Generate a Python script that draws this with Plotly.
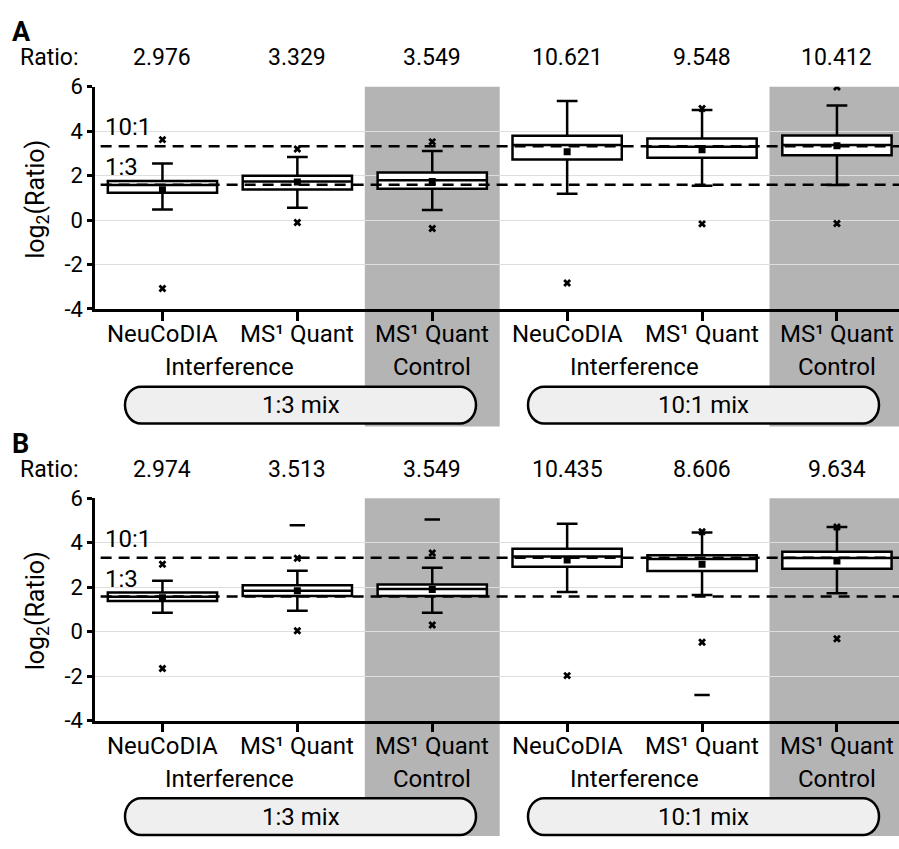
import math
import plotly.graph_objects as go

# ---------------- data ----------------
categories = ["NeuCoDIA", "MS¹ Quant", "MS¹ Quant",
              "NeuCoDIA", "MS¹ Quant", "MS¹ Quant"]
group_labels = ["Interference", "Control", "Interference", "Control"]
group_pos = [0.5, 2, 3.5, 5]
mix_labels = ["1:3 mix", "10:1 mix"]

ratio_A = ["2.976", "3.329", "3.549", "10.621", "9.548", "10.412"]
ratio_B = ["2.974", "3.513", "3.549", "10.435", "8.606", "9.634"]

q1_A = [1.23, 1.38, 1.41, 2.73, 2.81, 2.92]
median_A = [1.58, 1.74, 1.79, 3.38, 3.30, 3.38]
q3_A = [1.76, 1.99, 2.14, 3.80, 3.67, 3.81]
low_A = [0.48, 0.56, 0.45, 1.19, 1.55, 1.58]
up_A = [2.55, 2.84, 3.11, 5.36, 4.95, 5.15]
mean_A = [1.36, 1.71, 1.74, 3.08, 3.16, 3.35]
xout_A = [[3.62, -3.08], [3.20, -0.11], [3.52, -0.38], [-2.83], [5.02, -0.17], [-0.15, 5.99]]
dash_A = [[], [], [], [], [], []]

q1_B = [1.38, 1.60, 1.60, 2.92, 2.73, 2.83]
median_B = [1.57, 1.84, 1.92, 3.38, 3.27, 3.31]
q3_B = [1.76, 2.08, 2.12, 3.73, 3.44, 3.59]
low_B = [0.85, 0.94, 0.85, 1.78, 1.65, 1.73]
up_B = [2.29, 2.74, 2.87, 4.85, 4.46, 4.71]
mean_B = [1.52, 1.84, 1.90, 3.22, 3.03, 3.18]
xout_B = [[3.03, -1.66], [3.30, 0.04], [3.54, 0.30], [-1.98], [4.49, -0.48], [4.71, -0.32]]
dash_B = [[], [4.78], [5.04], [], [-2.85], []]

ref_lines = [math.log2(10), math.log2(3)]
ref_labels = ["10:1", "1:3"]
ref_label_y = [4.17, 2.38]

y_ticks = [-4, -2, 0, 2, 4, 6]
y_ticktext = ["-4", "-2", "0", "2", "4", "6"]

# ---------------- layout helpers ----------------
W, H = 899, 849
FONT = "Roboto, Open Sans, sans-serif"
GRAY = "#b4b4b4"


def px(x):
    return x / W


def py(y):
    return 1 - y / H


fig = go.Figure()
xpos = list(range(6))

panels = [
    dict(name="A", xa="x", ya="y", top=77, bot=306, q1=q1_A, med=median_A, q3=q3_A,
         lo=low_A, up=up_A, mean=mean_A, xout=xout_A, dash=dash_A, ratio=ratio_A),
    dict(name="B", xa="x2", ya="y2", top=501, bot=730, q1=q1_B, med=median_B, q3=q3_B,
         lo=low_B, up=up_B, mean=mean_B, xout=xout_B, dash=dash_B, ratio=ratio_B),
]

shapes = []
annotations = []

for p in panels:
    xa, ya = p["xa"], p["ya"]
    fig.add_trace(go.Box(
        x=xpos, q1=p["q1"], median=p["med"], q3=p["q3"],
        lowerfence=p["lo"], upperfence=p["up"],
        xaxis=xa, yaxis=ya, width=0.81, whiskerwidth=0.19,
        fillcolor="white", line=dict(color="black", width=2.5),
        boxpoints=False, showlegend=False, hoverinfo="skip"))
    fig.add_trace(go.Scatter(
        x=xpos, y=p["mean"], mode="markers", xaxis=xa, yaxis=ya,
        marker=dict(symbol="square", size=7, color="black"),
        showlegend=False, hoverinfo="skip"))
    ox, oy = [], []
    for i, vals in enumerate(p["xout"]):
        for v in vals:
            ox.append(i)
            oy.append(v)
    fig.add_trace(go.Scatter(
        x=ox, y=oy, mode="markers", xaxis=xa, yaxis=ya,
        marker=dict(symbol="x", size=7, color="black", line=dict(width=0)),
        showlegend=False, hoverinfo="skip"))
    dx, dy = [], []
    for i, vals in enumerate(p["dash"]):
        for v in vals:
            dx.append(i)
            dy.append(v)
    fig.add_trace(go.Scatter(
        x=dx, y=dy, mode="markers", xaxis=xa, yaxis=ya,
        marker=dict(symbol="line-ew", size=11, color="black",
                    line=dict(width=2.5, color="black")),
        showlegend=False, hoverinfo="skip"))

    top, bot = p["top"], p["bot"]
    gray_bottom = 427 if p["name"] == "A" else H
    for c in (2, 5):
        shapes.append(dict(type="rect", xref=xa, yref="paper",
                           x0=c - 0.5, x1=c + 0.5, y0=py(gray_bottom), y1=py(top),
                           fillcolor=GRAY, line=dict(width=0), layer="below"))
    for yv in ref_lines:
        shapes.append(dict(type="line", xref=xa + " domain", yref=ya,
                           x0=0.007, x1=1, y0=yv, y1=yv,
                           line=dict(color="black", width=2.5, dash="11px,7px"),
                           layer="above"))
    for lab, yv in zip(ref_labels, ref_label_y):
        annotations.append(dict(text=lab, xref="paper", yref=ya, x=px(103), y=yv,
                                xanchor="left", yanchor="middle", showarrow=False,
                                font=dict(family=FONT, size=24, color="black")))
    annotations.append(dict(text="<b>%s</b>" % p["name"], xref="paper", yref="paper",
                            x=px(10), y=py(top - 56), xanchor="left", yanchor="middle",
                            showarrow=False, font=dict(family=FONT, size=27, color="black")))
    annotations.append(dict(text="Ratio:", xref="paper", yref="paper",
                            x=px(18), y=py(top - 30), xanchor="left", yanchor="middle",
                            showarrow=False, font=dict(family=FONT, size=23, color="black")))
    for i, r in enumerate(p["ratio"]):
        annotations.append(dict(text=r, xref=xa, yref="paper", x=i, y=py(top - 30),
                                xanchor="center", yanchor="middle", showarrow=False,
                                font=dict(family=FONT, size=23, color="black")))
    annotations.append(dict(text="log<sub>2</sub>(Ratio)", xref="paper", yref="paper",
                            x=px(37), y=py((top + bot) / 2 + 2), textangle=-90,
                            xanchor="center", yanchor="middle", showarrow=False,
                            font=dict(family=FONT, size=25, color="black")))
    for i, c in enumerate(categories):
        annotations.append(dict(text=c, xref=xa, yref="paper", x=i, y=py(bot + 26),
                                xanchor="center", yanchor="middle", showarrow=False,
                                font=dict(family=FONT, size=24, color="black")))
    for g, gx in zip(group_labels, group_pos):
        annotations.append(dict(text=g, xref=xa, yref="paper", x=gx, y=py(bot + 60),
                                xanchor="center", yanchor="middle", showarrow=False,
                                font=dict(family=FONT, size=24, color="black")))
    for (xl, xr), lab in zip([(125, 476), (528, 879)], mix_labels):
        yt, yb = py(bot + 80), py(bot + 118)
        x0, x1 = px(xl), px(xr)
        rx = px(16)
        ym = (yt + yb) / 2
        ry = (yt - yb) / 2
        k = 0.552
        path = (f"M {x1-rx},{yt} "
                f"C {x1-rx+k*rx},{yt} {x1},{ym+k*ry} {x1},{ym} "
                f"C {x1},{ym-k*ry} {x1-rx+k*rx},{yb} {x1-rx},{yb} "
                f"L {x0+rx},{yb} "
                f"C {x0+rx-k*rx},{yb} {x0},{ym-k*ry} {x0},{ym} "
                f"C {x0},{ym+k*ry} {x0+rx-k*rx},{yt} {x0+rx},{yt} Z")
        shapes.append(dict(type="path", xref="paper", yref="paper", path=path,
                           fillcolor="#efefef", line=dict(color="black", width=2.5),
                           layer="above"))
        annotations.append(dict(text=lab, xref="paper", yref="paper",
                                x=(x0 + x1) / 2, y=ym, xanchor="center", yanchor="middle",
                                showarrow=False,
                                font=dict(family=FONT, size=24, color="black")))

xaxis_common = dict(range=[-0.5, 5.46], domain=[px(95), 1], showgrid=False,
                    zeroline=False, showline=True, linecolor="black", linewidth=2.5,
                    ticks="outside", ticklen=9, tickwidth=2.5, tickcolor="black",
                    tickvals=xpos, showticklabels=False, fixedrange=True)
yaxis_common = dict(range=[-4, 6], showgrid=True, gridcolor="#dedede", gridwidth=1,
                    zeroline=False, showline=True, linecolor="black", linewidth=2.5,
                    ticks="outside", ticklen=5, tickwidth=2.5, tickcolor="black",
                    tickvals=y_ticks, ticktext=y_ticktext,
                    tickfont=dict(family=FONT, size=22, color="black"), fixedrange=True)

fig.update_layout(
    width=W, height=H, margin=dict(l=0, r=0, t=0, b=0),
    paper_bgcolor="white", plot_bgcolor="rgba(0,0,0,0)",
    xaxis=dict(**xaxis_common, anchor="y"),
    yaxis=dict(**yaxis_common, anchor="x", domain=[py(306), py(77)]),
    xaxis2=dict(**xaxis_common, anchor="y2"),
    yaxis2=dict(**yaxis_common, anchor="x2", domain=[py(730), py(501)]),
    shapes=shapes, annotations=annotations, boxmode="overlay",
)

fig.write_html("out.html", config={"displayModeBar": False},
               post_script="document.body.style.margin='0';document.body.style.overflow='hidden';")
